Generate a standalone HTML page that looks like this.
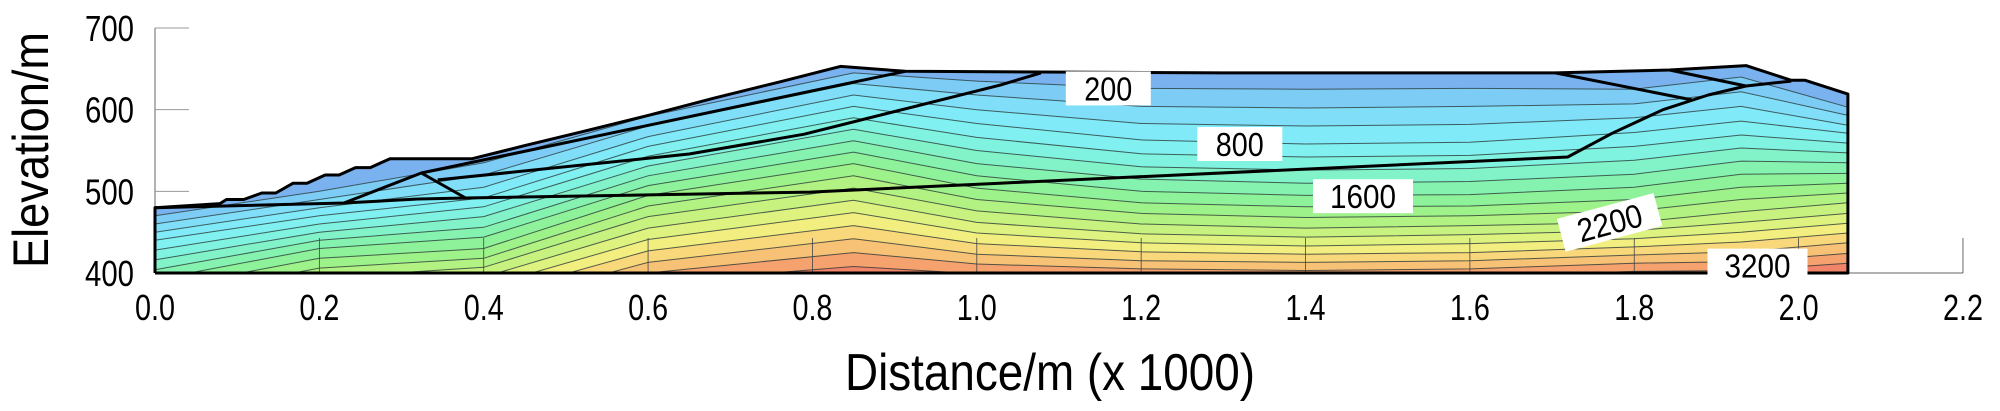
<!DOCTYPE html>
<html><head><meta charset="utf-8">
<style>
html,body{margin:0;padding:0;background:#fff;}
svg{display:block;}
text{font-family:"Liberation Sans",sans-serif;fill:#000;}
</style></head>
<body>
<svg id="chart" width="2000" height="411" viewBox="0 0 2000 411" xmlns="http://www.w3.org/2000/svg">
<defs><clipPath id="domainClip"><path id="clipPathShape"/></clipPath></defs>
<g id="bands" clip-path="url(#domainClip)"></g>
<g id="contours" clip-path="url(#domainClip)"></g>
<g id="axes"></g>
<g id="geom"></g>
<g id="labels"></g>
<text transform="translate(48,150) rotate(-90)" text-anchor="middle" font-size="50" textLength="236" lengthAdjust="spacingAndGlyphs">Elevation/m</text>
<text x="845" y="390" font-size="52" textLength="410" lengthAdjust="spacingAndGlyphs">Distance/m (x  1000)</text>
</svg>
<script>
// ---- data ----
const xTicks = [0.0,0.2,0.4,0.6,0.8,1.0,1.2,1.4,1.6,1.8,2.0,2.2];
const xTickLabels = ["0.0","0.2","0.4","0.6","0.8","1.0","1.2","1.4","1.6","1.8","2.0","2.2"];
const yTicks = [400,500,600,700];
const yTickLabels = ["400","500","600","700"];
const levels = [200,400,600,800,1000,1200,1400,1600,1800,2000,2200,2400,2600,2800,3000,3200,3400];
const columnsX = [0,0.2,0.4,0.6,0.85,1.0,1.2,1.4,1.6,1.8,1.93,2.06];
// elevation of each contour level (same order as levels) at each column
const elevCol0   = [470,460,450,440,428,416,404,392,380,368,356,344,332,320,308,296,284];
const elevCol1   = [500,490,480,470,460,450,440,430,418,406,394,382,370,358,346,334,322];
const elevCol2   = [535,520,505,492,481,469,456,444,430,418,407,395,383,371,359,347,335];
const elevCol3   = [592,580,567,555,543,531,519,507,495,482,469,455,441,427,413,400,388];
const elevCol4   = [645,632,618,604,590,576,562,548,534,519,504,489,474,458,442,425,408];
const elevCol5   = [635,618,600,583,566,550,534,519,504,490,476,462,449,436,423,411,399];
const elevCol6   = [626,604,583,563,546,530,515,500,486,473,460,448,437,426,415,405,395];
const elevCol7   = [625,602,580,558,542,526,510,495,481,468,455,444,433,423,413,403,394];
const elevCol8   = [626,604,582,560,544,528,512,496,482,470,458,447,436,425,415,405,395];
const elevCol9   = [625,607,590,572,555,538,521,505,490,476,462,452,442,432,422,412,402];
const elevCol10  = [640,622,604,586,569,553,537,521,505,490,475,462,450,438,426,414,403];
const elevCol11  = [603,593,581,571,559,547,535,522,510,498,486,473,461,449,437,424,412];
const bandColors = ["#7ab2f0","#7cccf6","#80def8","#80eaf8","#80f0f0","#80f2e0","#82f2c8","#86f2b0","#8ef29a","#9ef28a","#b2f282","#c8f280","#def280","#f2ee80","#f8d87a","#f8c276","#f6a26e","#f2846a"];
const outline = [[0,400],[0,480],[0.079,485],[0.087,490],[0.108,490],[0.130,498],[0.147,498],[0.168,510],[0.185,510],[0.207,520],[0.224,520],[0.244,529],[0.262,529],[0.286,540],[0.386,540],[0.45,556],[0.52,573],[0.60,593],[0.68,614],[0.76,634],[0.834,653],[0.913,647],[1.30,645],[1.704,645],[1.843,648.6],[1.936,654],[1.991,636],[2.008,636],[2.06,619],[2.06,400]];
const lineA = [[0,480],[0.23,485.7],[0.32,490.6],[0.378,491.8],[0.797,499],[1.028,510],[1.719,542],[1.773,571],[1.835,600],[1.89,618],[1.936,629],[1.991,635]];
const lineTri = [[0.23,485.7],[0.324,522.4],[0.378,491.8]];
const lineB = [[0.324,522.4],[0.913,647]];
const lineC = [[0.344,514],[0.65,545.7],[0.79,570],[1.028,630],[1.078,645]];
const lineR1 = [[1.704,645],[1.87,612]];
const lineR2 = [[1.843,648.6],[1.936,629]];
const contourLabels = ["200","800","1600","2200","3200"];
const labelPos = [[1.16,626],[1.32,558],[1.47,494],[1.77,462],[1.95,409]];
const labelAngle = [0,0,0,-15,0];

// ---- axis functions ----
const X = x => 155 + (x - 0) * 821.8;
const Y = y => 273 - (y - 400) * 0.8167;
const NS = "http://www.w3.org/2000/svg";
const mk = (tag, parent) => { const e = document.createElementNS(NS, tag); parent.appendChild(e); return e; };
const cols = [elevCol0,elevCol1,elevCol2,elevCol3,elevCol4,elevCol5,elevCol6,elevCol7,elevCol8,elevCol9,elevCol10,elevCol11];
const pts = arr => arr.map(p => X(p[0]).toFixed(1) + "," + Y(p[1]).toFixed(1));

document.getElementById('clipPathShape').setAttribute('d', 'M' + pts(outline).join('L') + 'Z');

function levelLine(k) { return columnsX.map((x, i) => [x, cols[i][k]]); }
const bands = document.getElementById('bands');
for (let b = 0; b <= levels.length; b++) {
  const upper = b === 0 ? columnsX.map(x => [x, 800]) : levelLine(b - 1);
  const lower = b === levels.length ? columnsX.map(x => [x, 300]) : levelLine(b);
  const p = mk('path', bands);
  
  
  p.setAttribute('d', 'M' + pts(upper).join('L') + 'L' + pts(lower.slice().reverse()).join('L') + 'Z');
  p.setAttribute('fill', bandColors[b]);
  p.setAttribute('stroke', bandColors[b]);
  p.setAttribute('stroke-width', '0.6');
}
const contours = document.getElementById('contours');
levels.forEach((lv, k) => {
  const p = mk('polyline', contours);
  
  
  p.setAttribute('points', pts(levelLine(k)).join(' '));
  p.setAttribute('fill', 'none');
  p.setAttribute('stroke', '#2a3a3a');
  p.setAttribute('stroke-width', '1');
  p.setAttribute('stroke-opacity', '0.8');
});

const axes = document.getElementById('axes');
const ax = mk('line', axes);


ax.setAttribute('x1', X(0)); ax.setAttribute('x2', X(2.2)); ax.setAttribute('y1', Y(400)); ax.setAttribute('y2', Y(400));
ax.setAttribute('stroke', '#999'); ax.setAttribute('stroke-width', '1.5');
const ay = mk('line', axes);


ay.setAttribute('x1', X(0)); ay.setAttribute('x2', X(0)); ay.setAttribute('y1', Y(700)); ay.setAttribute('y2', Y(400));
ay.setAttribute('stroke', '#999'); ay.setAttribute('stroke-width', '1.5');
xTicks.forEach((t, i) => {
  const l = mk('line', axes);
  
  
  l.setAttribute('x1', X(t)); l.setAttribute('x2', X(t)); l.setAttribute('y1', Y(400)); l.setAttribute('y2', Y(400) - 35);
  l.setAttribute('stroke', i === 0 ? '#999' : '#444'); l.setAttribute('stroke-width', '0.8');
  const tx = mk('text', axes);
  
  
  tx.setAttribute('x', X(t)); tx.setAttribute('y', 320);
  tx.setAttribute('text-anchor', 'middle'); tx.setAttribute('font-size', '36');
  tx.setAttribute('textLength', '40'); tx.setAttribute('lengthAdjust', 'spacingAndGlyphs');
  tx.textContent = xTickLabels[i];
});
yTicks.forEach((t, i) => {
  const l = mk('line', axes);
  
  
  l.setAttribute('x1', X(0)); l.setAttribute('x2', X(0) + 34); l.setAttribute('y1', Y(t)); l.setAttribute('y2', Y(t));
  l.setAttribute('stroke', '#999'); l.setAttribute('stroke-width', '1');
  const tx = mk('text', axes);
  
  
  tx.setAttribute('x', 134); tx.setAttribute('y', Y(t) + 13);
  tx.setAttribute('text-anchor', 'end'); tx.setAttribute('font-size', '36');
  tx.setAttribute('textLength', '49'); tx.setAttribute('lengthAdjust', 'spacingAndGlyphs');
  tx.textContent = yTickLabels[i];
});

const geom = document.getElementById('geom');
const outlineEl = mk('polyline', geom);


outlineEl.setAttribute('points', pts(outline.concat([outline[0]])).join(' '));
outlineEl.setAttribute('fill', 'none'); outlineEl.setAttribute('stroke', '#000'); outlineEl.setAttribute('stroke-width', '3');
outlineEl.setAttribute('stroke-linejoin', 'round');
[lineA, lineTri, lineB, lineC, lineR1, lineR2].forEach(ln => {
  const p = mk('polyline', geom);
  
  
  p.setAttribute('points', pts(ln).join(' '));
  p.setAttribute('fill', 'none'); p.setAttribute('stroke', '#000'); p.setAttribute('stroke-width', '3');
  p.setAttribute('stroke-linejoin', 'round');
});

const labels = document.getElementById('labels');
contourLabels.forEach((s, i) => {
  const g = mk('g', labels);
  
  
  const cx = X(labelPos[i][0]), cy = Y(labelPos[i][1]);
  g.setAttribute('transform', 'translate(' + cx.toFixed(1) + ',' + cy.toFixed(1) + ') rotate(' + labelAngle[i] + ')');
  const w = s.length === 3 ? 85 : 100;
  const r = mk('rect', g);
  r.setAttribute('x', -w / 2); r.setAttribute('y', -17); r.setAttribute('width', w); r.setAttribute('height', 34);
  r.setAttribute('fill', '#fff');
  const t = mk('text', g);
  t.setAttribute('x', 0); t.setAttribute('y', 12); t.setAttribute('text-anchor', 'middle');
  t.setAttribute('font-size', '33');
  t.setAttribute('textLength', s.length === 3 ? 48 : 66); t.setAttribute('lengthAdjust', 'spacingAndGlyphs');
  t.textContent = s;
});
</script>
</body></html>
